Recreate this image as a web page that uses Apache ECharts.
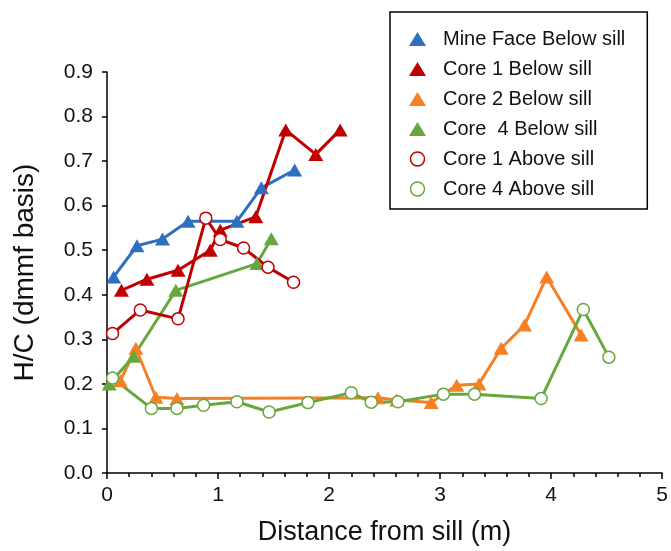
<!DOCTYPE html>
<html>
<head>
<meta charset="utf-8">
<script src="https://cdn.jsdelivr.net/npm/echarts@6/dist/echarts.min.js"></script>
<style>
  html, body { margin: 0; padding: 0; background: #fff; }
  #chart { width: 671px; height: 551px; }
</style>
</head>
<body>
<div id="chart"></div>
<script>
// values
const mineFaceX = [0.06, 0.27, 0.50, 0.73, 1.17, 1.39, 1.69];
const mineFaceY = [0.44, 0.51, 0.525, 0.565, 0.565, 0.64, 0.68];

const core1BelowX = [0.13, 0.36, 0.64, 0.93, 1.02, 1.34, 1.61, 1.88, 2.10];
const core1BelowY = [0.41, 0.435, 0.455, 0.50, 0.545, 0.575, 0.77, 0.715, 0.77];

const core2BelowX = [0.12, 0.26, 0.44, 0.63, 2.44, 2.61, 2.92, 3.15, 3.35, 3.55, 3.76, 3.96, 4.27];
const core2BelowY = [0.207, 0.28, 0.17, 0.167, 0.169, 0.164, 0.158, 0.197, 0.20, 0.28, 0.332, 0.44, 0.31];

const core4BelowX = [0.02, 0.24, 0.62, 1.35, 1.48];
const core4BelowY = [0.20, 0.262, 0.41, 0.47, 0.526];

const core1AboveX = [0.05, 0.30, 0.64, 0.89, 1.02, 1.23, 1.45, 1.68];
const core1AboveY = [0.313, 0.366, 0.346, 0.572, 0.524, 0.505, 0.462, 0.428];

const core4AboveX = [0.05, 0.40, 0.63, 0.87, 1.17, 1.46, 1.81, 2.20, 2.38, 2.62, 3.03, 3.31, 3.91, 4.29, 4.52];
const core4AboveY = [0.213, 0.145, 0.145, 0.152, 0.16, 0.137, 0.158, 0.18, 0.159, 0.16, 0.177, 0.177, 0.167, 0.367, 0.26];

const blue = "#2F6FC0";
const red = "#C00000";
const orange = "#F58025";
const green = "#67A83E";

const font = "Liberation Sans, Arial, sans-serif";

const pairs = (xs, ys) => xs.map((x, i) => [x, ys[i]]);

const triSeries = (name, xs, ys, color) => ({
  name,
  type: "line",
  data: pairs(xs, ys),
  symbol: "triangle",
  symbolSize: [15, 13],
  itemStyle: { color },
  lineStyle: { color, width: 3 },
  animation: false
});

const circSeries = (name, xs, ys, color) => ({
  name,
  type: "line",
  data: pairs(xs, ys),
  symbol: "circle",
  symbolSize: 12,
  itemStyle: { color: "#fff", borderColor: color, borderWidth: 1.5 },
  lineStyle: { color, width: 3 },
  animation: false
});

const myChart = echarts.init(document.getElementById("chart"));

const option = {
  backgroundColor: "#fff",
  grid: { left: 107, right: 7, top: 72, bottom: 76 },
  legend: {
    orient: "vertical",
    left: 390,
    top: 12,
    padding: [17, 22, 10, 19],
    itemGap: 10,
    itemWidth: 17,
    itemHeight: 14,
    borderColor: "#000",
    borderWidth: 1.5,
    borderRadius: 0,
    backgroundColor: "#fff",
    textStyle: { fontSize: 20, color: "#111", fontFamily: font, padding: [0, 0, 0, 12] },
    data: [
      { name: "Mine Face Below sill", icon: "triangle", itemStyle: { color: blue, borderWidth: 0 } },
      { name: "Core 1 Below sill", icon: "triangle", itemStyle: { color: red, borderWidth: 0 } },
      { name: "Core 2 Below sill", icon: "triangle", itemStyle: { color: orange, borderWidth: 0 } },
      { name: "Core  4 Below sill", icon: "triangle", itemStyle: { color: green, borderWidth: 0 } },
      { name: "Core 1 Above sill", icon: "circle", itemStyle: { color: "#fff", borderColor: red, borderWidth: 1.5 } },
      { name: "Core 4 Above sill", icon: "circle", itemStyle: { color: "#fff", borderColor: green, borderWidth: 1.5 } }
    ]
  },
  xAxis: {
    type: "value",
    min: 0,
    max: 5,
    interval: 1,
    name: "Distance from sill (m)",
    nameLocation: "middle",
    nameGap: 46,
    nameTextStyle: { fontSize: 27, color: "#111", fontFamily: font },
    axisLine: { lineStyle: { color: "#000", width: 1.5 } },
    axisTick: { show: true, length: 6, lineStyle: { color: "#000", width: 1.5 } },
    minorTick: { show: true, splitNumber: 5, length: 4, lineStyle: { color: "#000", width: 1.5 } },
    axisLabel: { fontSize: 21, color: "#111", fontFamily: font, margin: 12 },
    splitLine: { show: false }
  },
  yAxis: {
    type: "value",
    min: 0,
    max: 0.9,
    interval: 0.1,
    name: "H/C (dmmf basis)",
    nameLocation: "middle",
    nameGap: 68,
    nameTextStyle: { fontSize: 28, color: "#111", fontFamily: font },
    axisLine: { show: true, lineStyle: { color: "#000", width: 1.5 } },
    axisTick: { show: true, length: 5, lineStyle: { color: "#000", width: 1.5 } },
    axisLabel: { fontSize: 21, color: "#111", fontFamily: font, margin: 14, formatter: v => v.toFixed(1) },
    splitLine: { show: false }
  },
  series: [
    triSeries("Mine Face Below sill", mineFaceX, mineFaceY, blue),
    triSeries("Core 1 Below sill", core1BelowX, core1BelowY, red),
    triSeries("Core 2 Below sill", core2BelowX, core2BelowY, orange),
    triSeries("Core  4 Below sill", core4BelowX, core4BelowY, green),
    circSeries("Core 1 Above sill", core1AboveX, core1AboveY, red),
    circSeries("Core 4 Above sill", core4AboveX, core4AboveY, green)
  ]
};

myChart.setOption(option);
</script>
</body>
</html>
